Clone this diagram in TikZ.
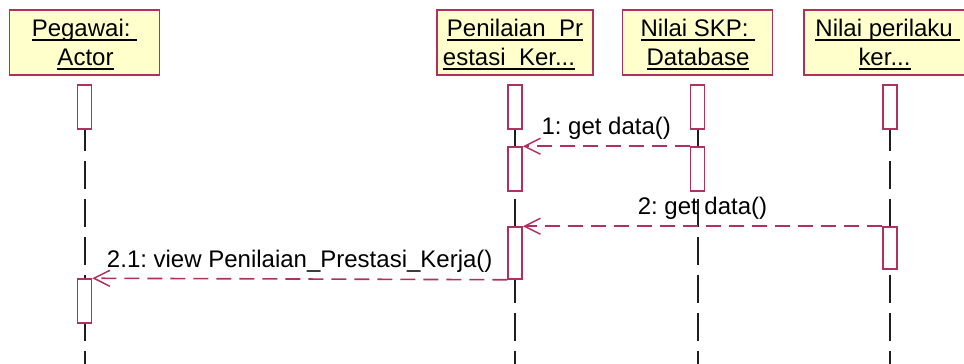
\documentclass[tikz,border=0pt]{standalone}
\usepackage{fontspec}
\setmainfont{Liberation Sans}
\usetikzlibrary{arrows.meta}
\definecolor{rosered}{RGB}{176,48,96}
\definecolor{noteyellow}{RGB}{255,255,204}
\definecolor{lifegray}{RGB}{30,30,30}
\frenchspacing
% underline at a fixed depth below the baseline
\newcommand\ulx[1]{\setbox0\hbox{#1}\rlap{\rule[-5pt]{\wd0}{1.6pt}}\box0}
\begin{document}
\begin{tikzpicture}[x=1pt,y=-1pt,
  every node/.style={font=\fontsize{24pt}{29pt}\selectfont},
  headbox/.style={draw=rosered, fill=noteyellow, line width=1.5pt, inner sep=0pt, minimum height=65pt},
  headtxt/.style={anchor=base, inner sep=0pt, text=black},
  actbox/.style={draw=rosered, fill=white, line width=1.5pt, inner sep=0pt, minimum width=14pt},
  lifeline/.style={draw=lifegray, line width=2pt, dash pattern=on 28pt off 10pt, dash phase=29pt},
  msg/.style={draw=rosered, line width=1.6pt, dash pattern=on 15pt off 8pt,
    -{Straight Barb[length=16pt,width=16pt,line width=1.5pt]}},
  msglbl/.style={midway, anchor=base, yshift=11.5pt, inner sep=0pt, text=black}]
\useasboundingbox (0,0) rectangle (964,364);

% object heads
\node[headbox, minimum width=150pt] (pegH) at (84.5,42.5) {};
\node[headbox, minimum width=156pt] (penH) at (515,42.5) {};
\node[headbox, minimum width=150pt] (skpH) at (697.5,42.5) {};
\node[headbox, minimum width=172pt] (perH) at (890,42.5) {};

\node[headtxt] (pegT1) at (84.5,36) {\ulx{Pegawai:\ }};
\node[headtxt] (pegT2) at (85.5,65) {\ulx{Actor}};
\node[headtxt] (penT1) at (515,36) {\ulx{Penilaian\_Pr}};
\node[headtxt] (penT2) at (509,65) {\ulx{estasi\_Ker...}};
\node[headtxt] (skpT1) at (698,36) {\ulx{Nilai SKP:\ }};
\node[headtxt] (skpT2) at (698,65) {\ulx{Database}};
\node[headtxt] (perT1) at (887.5,36) {\ulx{Nilai perilaku\ }};
\node[headtxt] (perT2) at (884.5,65) {\ulx{ker...}};

% lifelines
\coordinate (pegEnd) at (84.5,370);
\coordinate (penEnd) at (515,370);
\coordinate (skpEnd) at (697.5,370);
\coordinate (perEnd) at (890,370);
\draw[lifeline] (pegH.south) -- (pegEnd);
\draw[lifeline] (penH.south) -- (penEnd);
\draw[lifeline] (skpH.south) -- (skpEnd);
\draw[lifeline] (perH.south) -- (perEnd);

% activations
\node[actbox, minimum height=44pt] (peg1) at (84.5,107) {};
\node[actbox, minimum height=44pt] (peg2) at (84.5,301) {};
\node[actbox, minimum height=44pt] (pen1) at (515,107) {};
\node[actbox, minimum height=44pt] (pen2) at (515,169) {};
\node[actbox, minimum height=52pt] (pen3) at (515,253) {};
\node[actbox, minimum height=44pt] (skp1) at (697.5,107) {};
\node[actbox, minimum height=44pt] (skp2) at (697.5,169) {};
\node[actbox, minimum height=44pt] (per1) at (890,107) {};
\node[actbox, minimum height=42pt] (per2) at (890,248) {};

% messages
\draw[msg] (skp2.north west) -- (pen2.north east) node[msglbl] (m1) {1: get data()};
\draw[msg] (per2.north west) -- (pen3.north east) node[msglbl] (m2) {2: get data()};
\draw[msg] (pen3.south west) -- (peg2.north east) node[msglbl] (m3) {2.1: view Penilaian\_Prestasi\_Kerja()};
\end{tikzpicture}
\end{document}
